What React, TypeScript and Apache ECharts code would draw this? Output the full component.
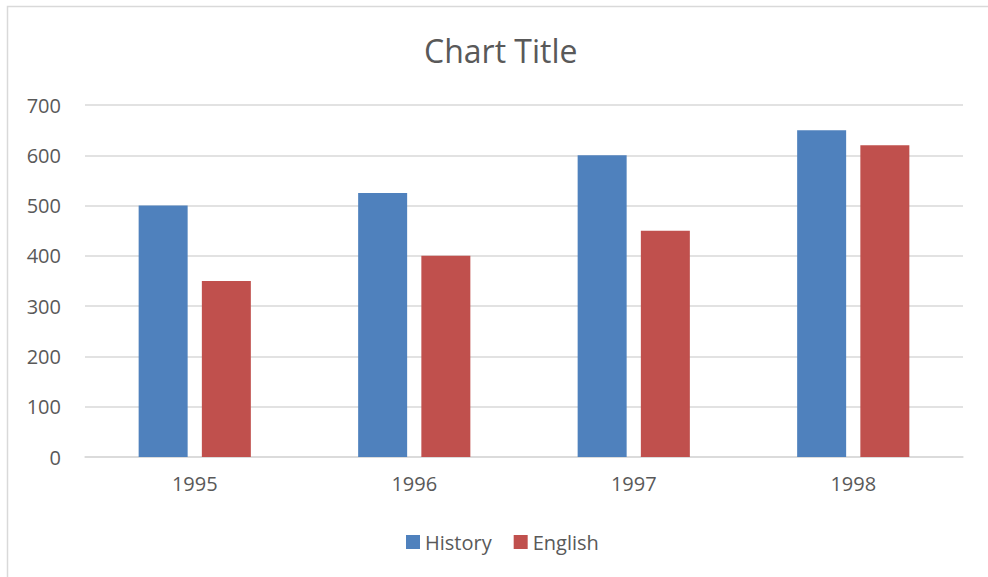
import React, { useEffect, useRef } from "react";
import * as echarts from "echarts";

const categories = ["1995", "1996", "1997", "1998"];
const historyValues = [500, 525, 600, 650];
const englishValues = [350, 400, 450, 620];
const seriesNames = ["History", "English"];
const titleText = "Chart Title";

export default function App() {
  const ref = useRef<HTMLDivElement>(null);
  useEffect(() => {
    if (!ref.current) return;
    const chart = echarts.init(ref.current, undefined, { renderer: "svg" });
    const font = "'Open Sans', sans-serif";
    chart.setOption({
      animation: false,
      backgroundColor: "#ffffff",
      textStyle: { fontFamily: font },
      title: {
        text: titleText,
        left: 424,
        top: 32,
        padding: 0,
        textStyle: { fontSize: 32, fontWeight: "normal", color: "#595959", fontFamily: font, lineHeight: 36 },
      },
      graphic: [
        {
          type: "rect",
          shape: { x: 7.5, y: 6.5, width: 1000, height: 600 },
          style: { fill: "none", stroke: "#d9d9d9", lineWidth: 1.5 },
          silent: true,
        },
      ],
      legend: {
        data: seriesNames,
        top: 532,
        left: 406,
        padding: 0,
        icon: "rect",
        itemWidth: 14,
        itemHeight: 14,
        itemGap: 22,
        textStyle: { fontSize: 20, color: "#595959", fontFamily: font },
      },
      grid: { left: 85, right: 25, top: 105, bottom: 120 },
      xAxis: {
        type: "category",
        data: categories,
        axisLine: { lineStyle: { color: "#d9d9d9", width: 1.5 } },
        axisTick: { show: false },
        axisLabel: { fontSize: 20, color: "#595959", margin: 16, fontFamily: font },
      },
      yAxis: {
        type: "value",
        min: 0,
        max: 700,
        interval: 100,
        axisLine: { show: false },
        axisTick: { show: false },
        splitLine: { lineStyle: { color: "#d9d9d9", width: 1.5 } },
        axisLabel: { fontSize: 20, color: "#595959", margin: 24, fontFamily: font },
      },
      series: [
        {
          name: seriesNames[0],
          type: "bar",
          data: historyValues,
          barWidth: 49,
          barGap: "29%",
          itemStyle: { color: "#4f81bd" },
        },
        {
          name: seriesNames[1],
          type: "bar",
          data: englishValues,
          barWidth: 49,
          barGap: "29%",
          itemStyle: { color: "#c0504d" },
        },
      ],
    });
    return () => chart.dispose();
  }, []);
  return (
    <div
      ref={ref}
      style={{ position: "fixed", left: 0, top: 0, width: 988, height: 577 }}
    />
  );
}
